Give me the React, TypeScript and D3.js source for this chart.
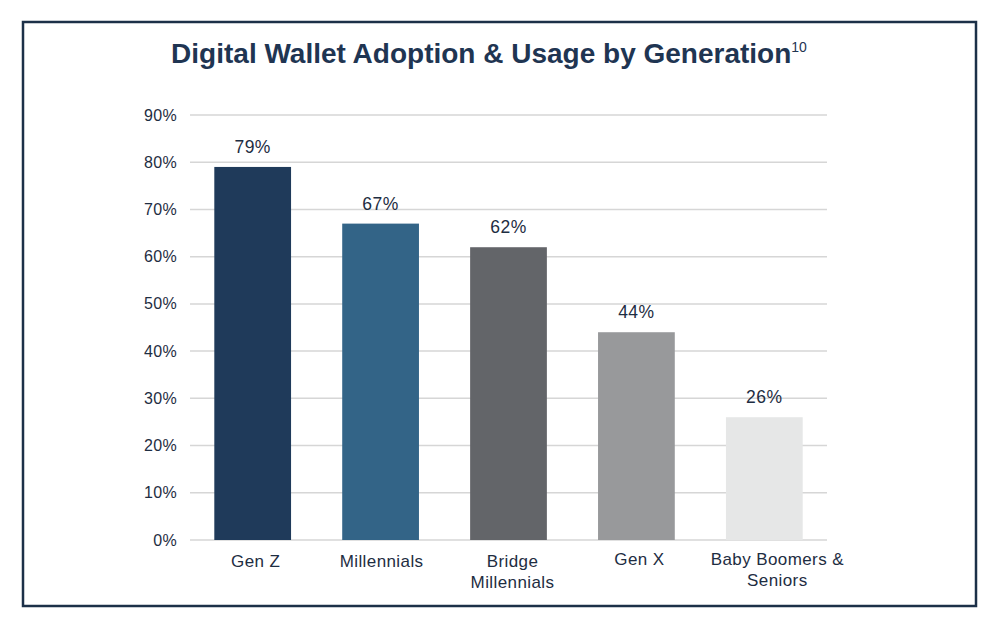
import { useRef, useEffect } from 'react';
import * as d3 from 'd3';

const generations = ['Gen Z', 'Millennials', 'Bridge Millennials', 'Gen X', 'Baby Boomers & Seniors'];
const labelLines = [['Gen Z'], ['Millennials'], ['Bridge', 'Millennials'], ['Gen X'], ['Baby Boomers &', 'Seniors']];
const adoption = [79, 67, 62, 44, 26];
const barColors = ['#1f3a5a', '#336487', '#636569', '#98999b', '#e6e7e7'];
const yTicks = [0, 10, 20, 30, 40, 50, 60, 70, 80, 90];

const WIDTH = 1000;
const HEIGHT = 629;
const FONT = "'Liberation Sans', Arial, sans-serif";
const TEXT = '#1e2d42';
// small horizontal offsets of the category labels, as in the source slide
const labelNudge = [3, 1, 4, 3, 13];

export default function App() {
  const svgRef = useRef<SVGSVGElement>(null);

  useEffect(() => {
    document.body.style.margin = '0';
    const svg = d3.select(svgRef.current);
    svg.selectAll('*').remove();

    // Frame
    svg
      .append('rect')
      .attr('x', 23)
      .attr('y', 22)
      .attr('width', 953)
      .attr('height', 584)
      .attr('fill', '#fff')
      .attr('stroke', '#1c3048')
      .attr('stroke-width', 2.5);

    // Title
    const title = svg
      .append('text')
      .attr('x', 489)
      .attr('y', 63)
      .attr('text-anchor', 'middle')
      .attr('fill', '#1f3552')
      .attr('font-family', FONT)
      .attr('font-weight', 'bold')
      .attr('font-size', '28px');
    title.append('tspan').text('Digital Wallet Adoption & Usage by Generation');
    title
      .append('tspan')
      .attr('font-size', '14px')
      .attr('font-weight', 'normal')
      .attr('dy', -11)
      .text('10');

    const x = d3
      .scaleBand<string>()
      .domain(generations)
      .range([190, 827])
      .paddingInner(0.4)
      .paddingOuter(0.19);
    const y = d3.scaleLinear().domain([0, 90]).range([540, 115]);

    // Gridlines + y labels
    for (const t of yTicks) {
      svg
        .append('line')
        .attr('x1', 190)
        .attr('x2', 827)
        .attr('y1', y(t))
        .attr('y2', y(t))
        .attr('stroke', '#d6d6d6')
        .attr('stroke-width', 1.5);
      svg
        .append('text')
        .attr('x', 177)
        .attr('y', y(t) + 5.5)
        .attr('text-anchor', 'end')
        .attr('fill', TEXT)
        .attr('font-family', FONT)
        .attr('font-size', '16px')
        .attr('letter-spacing', '0.3px')
        .text(`${t}%`);
    }

    // Bars
    generations.forEach((g, i) => {
      const bx = x(g) ?? 0;
      const cx = bx + x.bandwidth() / 2;
      svg
        .append('rect')
        .attr('x', bx)
        .attr('y', y(adoption[i]))
        .attr('width', x.bandwidth())
        .attr('height', y(0) - y(adoption[i]))
        .attr('fill', barColors[i]);

      svg
        .append('text')
        .attr('x', cx)
        .attr('y', y(adoption[i]) - 14)
        .attr('text-anchor', 'middle')
        .attr('fill', TEXT)
        .attr('font-family', FONT)
        .attr('font-size', '17.5px')
        .attr('letter-spacing', '0.5px')
        .text(`${adoption[i]}%`);

      const lx = cx + labelNudge[i];
      const lab = svg
        .append('text')
        .attr('x', lx)
        .attr('y', i >= 3 ? 565 : 567)
        .attr('text-anchor', 'middle')
        .attr('fill', TEXT)
        .attr('font-family', FONT)
        .attr('font-size', '17px')
        .attr('letter-spacing', '0.4px');
      labelLines[i].forEach((line, j) => {
        lab
          .append('tspan')
          .attr('x', lx)
          .attr('dy', j === 0 ? 0 : 21)
          .text(line);
      });
    });
  }, []);

  return <svg ref={svgRef} width={WIDTH} height={HEIGHT} viewBox={`0 0 ${WIDTH} ${HEIGHT}`} style={{ display: 'block' }} />;
}
